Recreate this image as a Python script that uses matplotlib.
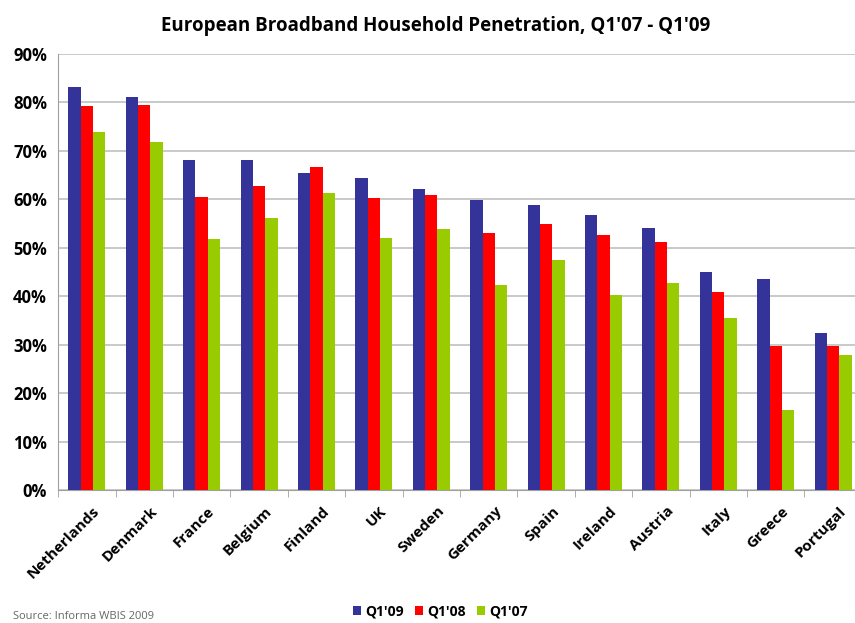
import matplotlib.pyplot as plt
import numpy as np
from matplotlib.ticker import PercentFormatter, MultipleLocator

countries = ["Netherlands", "Denmark", "France", "Belgium", "Finland", "UK", "Sweden",
             "Germany", "Spain", "Ireland", "Austria", "Italy", "Greece", "Portugal"]
q1_09 = [83.1, 81.0, 68.1, 68.1, 65.5, 64.4, 62.2, 59.9, 58.8, 56.8, 54.0, 45.0, 43.5, 32.4]
q1_08 = [79.3, 79.4, 60.4, 62.8, 66.6, 60.2, 60.8, 53.1, 54.8, 52.7, 51.1, 40.8, 29.7, 29.8]
q1_07 = [73.8, 71.9, 51.7, 56.1, 61.2, 52.0, 53.8, 42.4, 47.4, 40.2, 42.8, 35.5, 16.6, 27.8]
series_names = ["Q1'09", "Q1'08", "Q1'07"]
colors = ["#333399", "#ff0000", "#99cc00"]

plt.rcParams['font.family'] = ['Open Sans', 'DejaVu Sans']

fig = plt.figure(figsize=(8.55, 6.23), dpi=100)
ax = fig.add_axes([0.068, 0.2135, 0.94, 0.70])

x = np.arange(len(countries))
width = 0.215
for i, (vals, name, col) in enumerate(zip([q1_09, q1_08, q1_07], series_names, colors)):
    ax.bar(x + (i - 1) * width, vals, width, color=col, label=name, zorder=3)

ax.set_xlim(-0.5, len(countries) - 0.5)
ax.set_ylim(0, 90)
ax.yaxis.set_major_locator(MultipleLocator(10))
ax.yaxis.set_major_formatter(PercentFormatter(decimals=0))
ax.grid(axis="y", color="#c0c0c0", linewidth=1.2, zorder=0)

# labels end a little right of the category centre, like the original
ax.set_xticks(x + 0.1)
ax.set_xticklabels(countries, rotation=45, ha="right", rotation_mode="anchor",
                   fontsize=11, fontweight="bold")
ax.tick_params(axis="x", length=0, pad=10)
ax.set_xticks(np.arange(len(countries) + 1) - 0.5, minor=True)
ax.tick_params(axis="x", which="minor", length=5, color="#a0a0a0")
ax.tick_params(axis="y", length=0, labelsize=12, pad=8)
for lbl in ax.get_yticklabels():
    lbl.set_fontweight("bold")

for side in ["top", "right"]:
    ax.spines[side].set_visible(False)
ax.spines["left"].set_color("#a0a0a0")
ax.spines["bottom"].set_color("#a0a0a0")

fig.suptitle("European Broadband Household Penetration, Q1'07 - Q1'09",
             x=0.51, y=0.975, fontsize=13.5, fontweight="bold")

fig.legend(loc="center", bbox_to_anchor=(0.515, 0.018), ncol=3, frameon=False,
           handlelength=0.6, handleheight=0.6, handletextpad=0.3, columnspacing=0.8,
           prop={"weight": "bold", "size": 10})
fig.text(0.015, 0.006, "Source: Informa WBIS 2009", fontsize=8, color="#666666")

plt.savefig("out.png")
